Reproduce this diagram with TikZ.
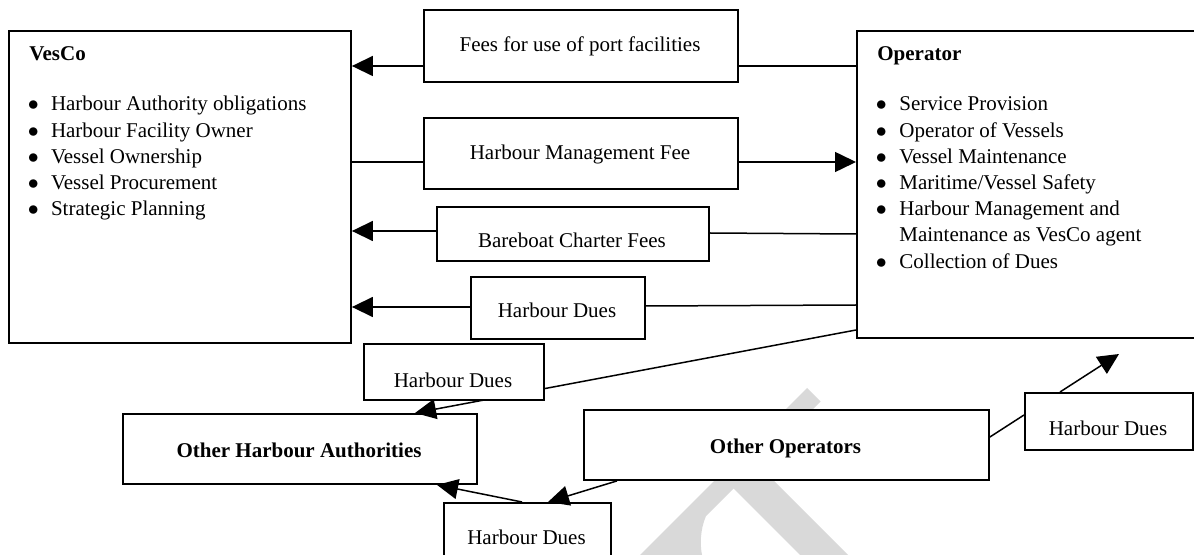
\documentclass[tikz,border=0pt]{standalone}
\usepackage{fontspec}
\setmainfont{Liberation Serif}
\usetikzlibrary{arrows.meta}
\newcommand{\bigbul}{\hspace{-0.8pt}$\bullet$}
\begin{document}
\begin{tikzpicture}[x=0.5pt,y=-0.5pt,
  box/.style={draw, line width=0.95pt, fill=white, inner sep=0pt, anchor=north west},
  lbl/.style={inner sep=0pt, anchor=base, font=\fontsize{10.5}{13.1}\selectfont},
  lst/.style={inner sep=0pt, anchor=base west, font=\fontsize{10.5}{13.1}\selectfont},
  conn/.style={line width=0.75pt},
  arr/.style={line width=0.75pt, -{Triangle[length=10.5pt,width=10pt]}},
  wmark/.style={fill=black!15, draw=none}
]
\useasboundingbox (0,0) rectangle (1194,555);
\clip (0,0) rectangle (1194,555);

% faint watermark (top of a rotated serif T)
\fill[wmark] (627.5,567.5) -- (807,388) -- (820.5,401.5) -- (757.5,464.5)
  -- (1046.5,753.5) -- (1022.5,777.5) -- (733.5,488.5) -- (706,516)
  .. controls (700,530) and (700,545) .. (702,555) -- (725,595) -- (690,630) -- cycle;

% main boxes
\node[box, minimum width=171pt, minimum height=156pt] (vesco) at (8,30) {};
\node[box, minimum width=177pt, minimum height=153.5pt] (op) at (856,30) {};
\node[box, minimum width=157pt, minimum height=36pt] (fees) at (423,9) {};
\node[box, minimum width=157pt, minimum height=35.5pt] (hmf) at (423,117) {};
\node[box, minimum width=136pt, minimum height=27pt] (bb) at (436,206) {};
\node[box, minimum width=87pt, minimum height=31pt] (hd1) at (470,276) {};
\node[box, minimum width=177pt, minimum height=35pt] (oha) at (122,413) {};
\node[box, minimum width=202.5pt, minimum height=35pt] (oo) at (583,409) {};
\node[box, minimum width=84pt, minimum height=28.5pt] (hd3) at (1024,392) {};
\node[box, minimum width=83.5pt, minimum height=34pt] (hd4) at (443,502) {};

% VesCo contents
\node[lst] (vescot) at (29,61) {\textbf{VesCo}};
\node[lst] (vescol) at (29,111) {\begin{tabular}[t]{@{}p{10.8pt}@{}l@{}}
\bigbul & Harbour Authority obligations\\
\bigbul & Harbour Facility Owner\\
\bigbul & Vessel Ownership\\
\bigbul & Vessel Procurement\\
\bigbul & Strategic Planning
\end{tabular}};

% Operator contents
\node[lst] (opt) at (877,61) {\textbf{Operator}};
\node[lst] (opl) at (877,111) {\begin{tabular}[t]{@{}p{11pt}@{}l@{}}
\bigbul & Service Provision\\
\bigbul & Operator of Vessels\\
\bigbul & Vessel Maintenance\\
\bigbul & Maritime/Vessel Safety\\
\bigbul & Harbour Management and\\
 & Maintenance as VesCo agent\\
\bigbul & Collection of Dues
\end{tabular}};

% labels
\node[lbl] (feest) at (580,52) {Fees for use of port facilities};
\node[lbl] (hmft) at (580,160) {Harbour Management Fee};
\node[lbl] (bbt) at (572,248) {Bareboat Charter Fees};
\node[lbl] (hd1t) at (557,318) {Harbour Dues};
\node[lbl] (ohat) at (299,458) {\textbf{Other Harbour Authorities}};
\node[lbl] (oot) at (785.5,453) {\textbf{Other Operators}};
\node[lbl] (hd3t) at (1108,436) {Harbour Dues};
\node[lbl] (hd4t) at (526.5,545) {Harbour Dues};

% connectors between VesCo and Operator
\draw[arr] (fees.west |- 0,66) -- (vesco.east |- 0,66);
\draw[conn] (fees.east |- 0,66) -- (op.west |- 0,66);
\draw[conn] (vesco.east |- 0,162) -- (hmf.west |- 0,162);
\draw[arr] (hmf.east |- 0,162) -- (op.west |- 0,162);
\draw[arr] (bb.west |- 0,231) -- (vesco.east |- 0,231);
\draw[conn] (bb.east |- 0,233) -- (op.west |- 0,234);
\draw[arr] (hd1.west |- 0,307) -- (vesco.east |- 0,307);
\draw[conn] (hd1.east |- 0,306) -- (op.west |- 0,305);

% Operator -> Other Harbour Authorities (passes behind the Harbour Dues box)
\draw[arr] (op.west |- 0,330) -- (oha.north -| 415,0);
\node[box, minimum width=90pt, minimum height=28pt] (hd2) at (363,343) {};
\node[lbl] (hd2t) at (453,388) {Harbour Dues};

% Other Operators connectors
\draw[conn] (oo.east |- 0,437) -- (hd3.west |- 0,415);
\coordinate (hd3tip) at (1119,354);
\draw[arr] (hd3.north -| 1060,0) -- (hd3tip);
\draw[arr] (oo.south -| 617,0) -- (hd4.north -| 548,0);
\draw[arr] (hd4.north -| 522,0) -- (oha.south -| 437,0);
\end{tikzpicture}
\end{document}
